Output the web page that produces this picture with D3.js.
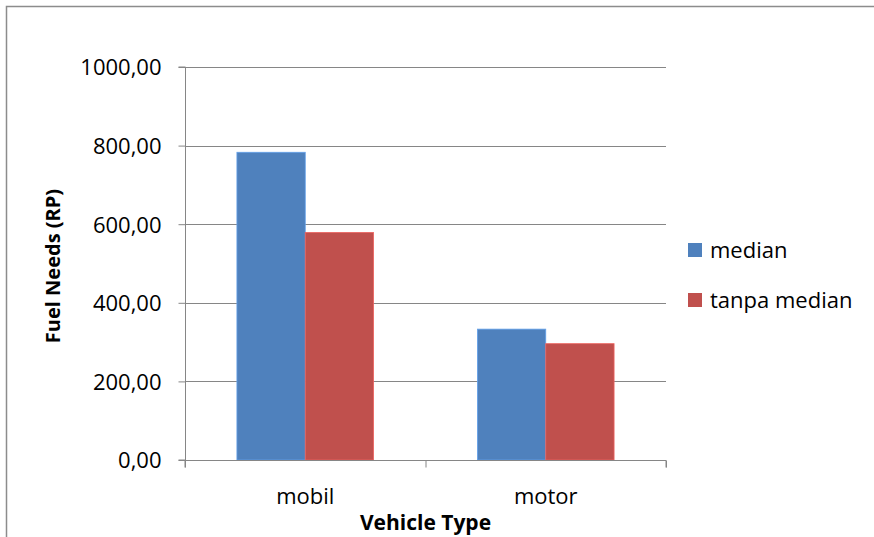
<!DOCTYPE html>
<html>
<head>
	<meta charset="utf-8">
	<script src="https://d3js.org/d3.v7.min.js"></script>
	<style>
		body { margin: 0; background: #fff; }
		text { font-family: "Open Sans", sans-serif; fill: #000; }
	</style>
</head>
<body>
	<div id="chart"></div>

	<script type="text/javascript">

		// data
		var categories = ["mobil", "motor"];
		var seriesNames = ["median", "tanpa median"];
		var medianValues = [783, 333];
		var tanpaMedianValues = [579, 296];
		var yTicks = [0, 200, 400, 600, 800, 1000];

		var colors = ["#4F81BD", "#C0504D"];

		var dataset = categories.map(function(c, i){
			return { cat: c, values: [medianValues[i], tanpaMedianValues[i]] };
		});

		var svgwidth = 874;
		var svgheight = 537;
		var plotLeft = 185, plotRight = 666, plotTop = 67, plotBottom = 460;

		var svg = d3.select("#chart").append("svg")
				.attr("width", svgwidth)
				.attr("height", svgheight);

		// outer frame of the chart area
		svg.append("path")
			.attr("d", "M6.5," + svgheight + "V6.5H" + svgwidth)
			.attr("fill", "none")
			.attr("stroke", "#8c8c8c")
			.attr("stroke-width", 1.5);

		var xScale = d3.scaleBand()
						.domain(categories)
						.range([plotLeft, plotRight]);

		var inner = d3.scaleBand()
						.domain(d3.range(seriesNames.length))
						.range([0, xScale.bandwidth()])
						.paddingOuter(0.76)
						.paddingInner(0);

		var yScale = d3.scaleLinear()
						.domain([0, 1000])
						.range([plotBottom, plotTop]);

		// gridlines
		svg.append("g").selectAll("line").data(yTicks.filter(function(d){ return d > 0; }))
			.enter().append("line")
			.attr("x1", plotLeft).attr("x2", plotRight)
			.attr("y1", function(d){ return Math.round(yScale(d)) + 0.5; })
			.attr("y2", function(d){ return Math.round(yScale(d)) + 0.5; })
			.attr("stroke", "#868686");

		// bars
		var groups = svg.selectAll(".gbars").data(dataset).enter().append("g")
			.attr("class", "gbars")
			.attr("transform", function(d){ return "translate(" + xScale(d.cat) + ",0)"; });

		groups.selectAll("rect").data(function(d){ return d.values; }).enter().append("rect")
			.attr("x", function(d, i){ return inner(i); })
			.attr("y", function(d){ return yScale(d); })
			.attr("width", inner.bandwidth())
			.attr("height", function(d){ return plotBottom - yScale(d); })
			.attr("fill", function(d, i){ return colors[i]; })
			.attr("stroke", function(d, i){ return d3.color(colors[i]).brighter(0.6); })
			.attr("stroke-width", 0.8);

		// y axis
		var yAxis = d3.axisLeft(yScale)
			.tickValues(yTicks)
			.tickSize(7)
			.tickPadding(17)
			.tickFormat(function(d){ return d3.format(".2f")(d).replace(".", ","); });

		var gy = svg.append("g")
			.attr("transform", "translate(" + (plotLeft + 0.5) + ",0)")
			.call(yAxis);
		gy.selectAll("text").style("font-size", "22px").attr("dy", "0.36em");

		// x axis
		var xAxis = d3.axisBottom(d3.scaleLinear().domain([0, 2]).range([plotLeft, plotRight]))
			.tickValues([0, 1, 2])
			.tickSize(7)
			.tickFormat("");

		var gx = svg.append("g")
			.attr("transform", "translate(0," + (plotBottom + 0.5) + ")")
			.call(xAxis);

		svg.selectAll(".domain, .tick line").attr("stroke", "#868686");
		gy.select(".domain").attr("d", "M-7," + plotTop + "H0V" + plotBottom + "H-7");
		gx.select(".domain").attr("d", "M" + plotLeft + ",7V0H" + plotRight + "V7");

		// category labels
		svg.append("g").selectAll("text").data(categories).enter().append("text")
			.attr("x", function(d){ return xScale(d) + xScale.bandwidth() / 2; })
			.attr("y", 504)
			.attr("text-anchor", "middle")
			.style("font-size", "22px")
			.text(function(d){ return d; });

		// axis titles
		svg.append("text")
			.attr("x", (plotLeft + plotRight) / 2)
			.attr("y", 530)
			.attr("text-anchor", "middle")
			.style("font-size", "21px")
			.style("font-weight", "bold")
			.text("Vehicle Type");

		svg.append("text")
			.attr("transform", "translate(60," + 266 + ") rotate(-90)")
			.attr("text-anchor", "middle")
			.style("font-size", "20px")
			.style("font-weight", "bold")
			.text("Fuel Needs (RP)");

		// legend
		var legend = svg.append("g").selectAll("g").data(seriesNames).enter().append("g")
			.attr("transform", function(d, i){ return "translate(688," + (243 + i * 50) + ")"; });

		legend.append("rect")
			.attr("width", 14).attr("height", 14)
			.attr("fill", function(d, i){ return colors[i]; });

		legend.append("text")
			.attr("x", 22)
			.attr("y", 15)
			.style("font-size", "22px")
			.text(function(d){ return d; });

	</script>
</body>
</html>
